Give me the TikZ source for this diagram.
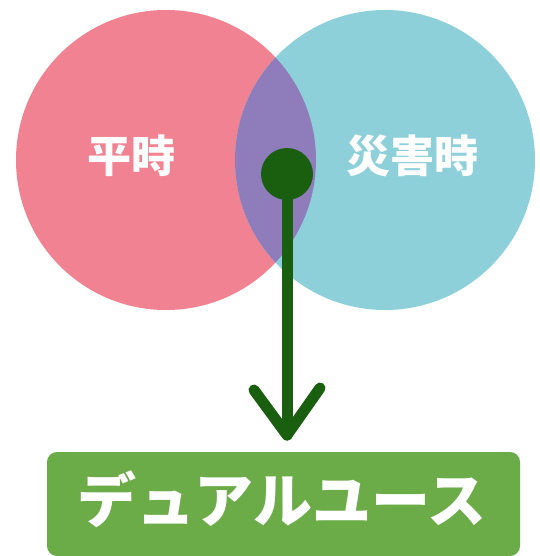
\documentclass[tikz,border=0pt]{standalone}
\usepackage{fontspec}
\newfontfamily\cjk{Noto Sans CJK JP}
\usetikzlibrary{shapes.geometric,calc}
\definecolor{pinkc}{RGB}{240,130,145}
\definecolor{cyanc}{RGB}{142,208,218}
\definecolor{purplec}{RGB}{143,125,187}
\definecolor{boxgreen}{RGB}{108,172,72}
\definecolor{darkgreen}{RGB}{25,95,15}
\tikzset{
  venn/.style={circle, minimum size=300pt, inner sep=0pt},
  label text/.style={font=\cjk\bfseries\fontsize{44}{44}\selectfont, text=white},
  pen/.style={draw=darkgreen, line width=11pt, line cap=round, line join=round},
}
\begin{document}
\begin{tikzpicture}[x=1pt,y=-1pt]
\useasboundingbox (0,0) rectangle (539,556);
\fill[white] (0,0) rectangle (539,556);
% circles
\node[venn, fill=pinkc] (peace) at (166,160) {};
\node[venn, fill=cyanc] (disaster) at (385,160) {};
\begin{scope}
  \clip (166,160) circle (150);
  \fill[purplec] (385,160) circle (150);
\end{scope}
% labels
\node[label text] (lp) at (131,156) {平時};
\node[label text] (ld) at (412,156) {災害時};
% box
\node[draw=none, fill=boxgreen, rounded corners=10pt, minimum width=473pt, minimum height=104pt, inner sep=0pt] (dual) at (283.5,504) {};
\node[font=\cjk\bfseries\fontsize{59}{59}\selectfont, text=white] (dualtext) at (282,499) {デュアルユース};
% arrow
\node[circle, fill=darkgreen, minimum size=52pt, inner sep=0pt] (dot) at (287,174) {};
\coordinate (tip) at (287,435);
\draw[pen] (dot.center) -- (tip);
\draw[pen] ($(tip)+(-33,-45)$) -- (tip) -- ($(tip)+(33,-47)$);
\end{tikzpicture}
\end{document}
